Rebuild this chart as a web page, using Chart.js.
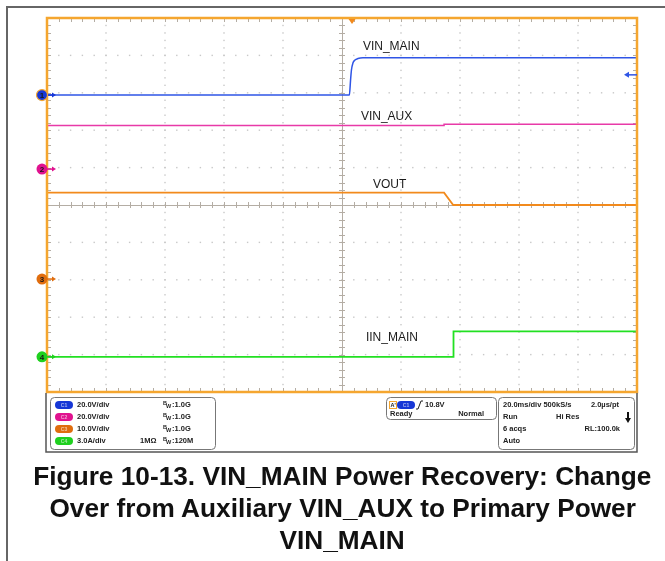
<!DOCTYPE html>
<html lang="en">
<head>
<meta charset="utf-8">
<title>VIN_MAIN Power Recovery</title>
<script src="https://cdn.jsdelivr.net/npm/chart.js@4.4.0/dist/chart.umd.min.js"></script>
<style>
  html, body { margin: 0; padding: 0; background: #fff; }
  #contenedor { position: relative; width: 665px; height: 561px; overflow: hidden; }
  #osciloscopio { position: absolute; left: 0; top: 0; }
  #pie {
    position: absolute; left: 10px; top: 460px; width: 665px;
    font-family: "Liberation Sans Narrow", "Liberation Sans", Arial, sans-serif; font-weight: bold;
    font-size: 26px; line-height: 32px; color: #111; text-align: center;
  }
  #pie div { white-space: nowrap; }
  #pie span { display: inline-block; }
</style>
</head>
<body>
<div id="contenedor">
  <canvas id="osciloscopio" width="665" height="561"></canvas>
  <div id="pie">
    <div><span>Figure 10-13. VIN_MAIN Power Recovery: Change</span></div>
    <div><span>Over from Auxiliary VIN_AUX to Primary Power</span></div>
    <div><span>VIN_MAIN</span></div>
  </div>
</div>

<script>
// Canales del osciloscopio
const canales = ['C1', 'C2', 'C3', 'C4'];
const nombres = ['VIN_MAIN', 'VIN_AUX', 'VOUT', 'IIN_MAIN'];
const escalas = ['20.0V/div', '20.0V/div', '10.0V/div', '3.0A/div'];
const unidadesPorDiv = [20, 20, 10, 3];
const posicionDiv = [2.94, 0.96, -1.98, -4.06];   // offset de cada canal en divisiones

// Tiempos en ms (20 ms/div, 10 div)
const tiempoMain = [-100, 2.5, 2.9, 3.2, 3.7, 4.4, 5.4, 7.1, 100];
const vinMain    = [0, 0, 8.0, 13.4, 17.1, 18.7, 19.5, 19.9, 19.9];

const tiempoAux = [-100, 34.6, 34.6, 100];
const vinAux    = [23.3, 23.3, 24.0, 24.0];

const tiempoOut = [-100, 34.6, 37.7, 100];
const vout      = [23.1, 23.1, 19.8, 19.8];

const tiempoIin = [-100, 37.7, 37.8, 100];
const iinMain   = [0, 0, 2.04, 2.04];

const nivelTrigger = 10.8;   // V en C1
const tiempoTrigger = 3.4;   // ms

const colores  = ['#2f55e6', '#e83aa8', '#f28a1c', '#22e022'];
const coloresMarca = ['#1737d6', '#e0128f', '#e06d0e', '#1fd01f'];

const serie = (ts, vs) => ts.map((t, i) => ({ x: t, y: vs[i] }));

// Donde van los nombres de las trazas (tiempo en ms, altura en divisiones)
const etiquetas = [
  { texto: 'VIN_MAIN', t: 7.1, div: 4.22 },
  { texto: 'VIN_AUX', t: 6.4, div: 2.35 },
  { texto: 'VOUT', t: 10.5, div: 0.53 },
  { texto: 'IIN_MAIN', t: 8.1, div: -3.56 }
];

const TEXTO = '#222';

function cajaRedonda(ctx, x, y, w, h, r) {
  ctx.beginPath();
  ctx.roundRect(x, y, w, h, r);
  ctx.stroke();
}

function insignia(ctx, x, y, color, texto) {
  ctx.save();
  ctx.fillStyle = color;
  ctx.beginPath();
  ctx.roundRect(x, y - 4, 18, 8, 4);
  ctx.fill();
  ctx.fillStyle = 'rgba(255,255,255,0.6)';
  ctx.font = 'bold 5px "Liberation Sans", Arial';
  ctx.textAlign = 'center';
  ctx.fillText(texto, x + 9, y + 0.5);
  ctx.restore();
}

// Panel de configuracion bajo la pantalla
function panelInfo(ctx) {
  ctx.save();
  ctx.strokeStyle = '#555';
  ctx.lineWidth = 1.5;
  ctx.beginPath();
  ctx.moveTo(46, 393); ctx.lineTo(46, 452); ctx.lineTo(637, 452); ctx.lineTo(637, 393);
  ctx.stroke();

  ctx.strokeStyle = '#777';
  ctx.lineWidth = 1;
  cajaRedonda(ctx, 50.5, 397.5, 165, 52, 4);
  cajaRedonda(ctx, 386.5, 397.5, 110, 22, 4);
  cajaRedonda(ctx, 498.5, 397.5, 136, 52, 4);

  ctx.textBaseline = 'middle';
  const filas = [405, 417, 429, 441];
  canales.forEach((c, i) => {
    const y = filas[i];
    insignia(ctx, 55, y, coloresMarca[i], c);
    ctx.fillStyle = TEXTO;
    ctx.font = 'bold 7.5px "Liberation Sans", Arial';
    ctx.fillText(escalas[i], 77, y);
    // B sub W : ancho de banda
    ctx.font = 'bold 5.5px "Liberation Sans", Arial';
    ctx.fillText('B', 163, y - 2);
    ctx.fillText('W', 166, y + 1.5);
    ctx.font = 'bold 7.5px "Liberation Sans", Arial';
    ctx.fillText(i === 3 ? ':120M' : ':1.0G', 172, y);
  });
  ctx.fillText('1M\u03A9', 140, filas[3]);

  // trigger
  ctx.strokeStyle = '#f5a62f';
  ctx.strokeRect(389.5, 401.5, 7, 7);
  ctx.fillStyle = TEXTO;
  ctx.font = 'bold 5.5px "Liberation Sans", Arial';
  ctx.fillText('A\'', 390.5, 405);
  insignia(ctx, 397, 405, coloresMarca[0], 'C1');
  ctx.strokeStyle = TEXTO;
  ctx.lineWidth = 1;
  ctx.beginPath();
  ctx.moveTo(416, 409); ctx.lineTo(418, 409); ctx.lineTo(421, 401); ctx.lineTo(423, 401);
  ctx.stroke();
  ctx.fillStyle = TEXTO;
  ctx.font = 'bold 7.5px "Liberation Sans", Arial';
  ctx.fillText('10.8V', 425, 405);
  ctx.fillText('Ready', 390, 414);
  ctx.textAlign = 'right';
  ctx.fillText('Normal', 484, 414);

  // adquisicion
  ctx.textAlign = 'left';
  ctx.fillText('20.0ms/div 500kS/s', 503, filas[0]);
  ctx.fillText('Run', 503, filas[1]);
  ctx.fillText('Hi Res', 556, filas[1]);
  ctx.fillText('6 acqs', 503, filas[2]);
  ctx.fillText('Auto', 503, filas[3]);
  ctx.textAlign = 'right';
  ctx.fillText('2.0\u00B5s/pt', 619, filas[0]);
  ctx.fillText('RL:100.0k', 620, filas[2]);
  ctx.textAlign = 'left';
  // flecha hacia abajo
  ctx.fillStyle = '#111';
  ctx.fillRect(627, 412, 2, 7);
  ctx.beginPath();
  ctx.moveTo(625, 418); ctx.lineTo(631, 418); ctx.lineTo(628, 423); ctx.closePath();
  ctx.fill();
  ctx.restore();
}

const pantalla = {
  id: 'pantalla',
  beforeDraw(chart) {
    const { ctx, chartArea: a, scales } = chart;
    const px = v => scales.x.getPixelForValue(v);
    const py = d => scales.yDiv.getPixelForValue(d);
    ctx.save();
    ctx.fillStyle = '#fff';
    ctx.fillRect(0, 0, chart.width, chart.height);

    // marco gris de la figura
    ctx.strokeStyle = '#666';
    ctx.lineWidth = 2;
    ctx.beginPath();
    ctx.moveTo(7, chart.height); ctx.lineTo(7, 7); ctx.lineTo(chart.width, 7);
    ctx.stroke();

    // reticula punteada
    ctx.fillStyle = '#c8c8c8';
    for (let t = -80; t <= 80; t += 20) {
      if (t === 0) continue;
      for (let d = -5; d <= 5.001; d += 0.2) ctx.fillRect(px(t) - 0.7, py(d) - 0.7, 1.4, 1.4);
    }
    for (let d = -4; d <= 4; d++) {
      if (d === 0) continue;
      for (let t = -100; t <= 100.001; t += 4) ctx.fillRect(px(t) - 0.7, py(d) - 0.7, 1.4, 1.4);
    }

    // ejes centrales con marcas
    ctx.strokeStyle = '#b4ada4';
    ctx.lineWidth = 1;
    ctx.beginPath();
    ctx.moveTo(a.left, Math.round(py(0)) + 0.5); ctx.lineTo(a.right, Math.round(py(0)) + 0.5);
    ctx.moveTo(Math.round(px(0)) + 0.5, a.top); ctx.lineTo(Math.round(px(0)) + 0.5, a.bottom);
    for (let t = -100; t <= 100.001; t += 4) {
      const x = Math.round(px(t)) + 0.5;
      ctx.moveTo(x, py(0) - 3); ctx.lineTo(x, py(0) + 3);
      ctx.moveTo(x, a.top); ctx.lineTo(x, a.top + 4);
      ctx.moveTo(x, a.bottom); ctx.lineTo(x, a.bottom - 4);
    }
    for (let d = -5; d <= 5.001; d += 0.2) {
      const y = Math.round(py(d)) + 0.5;
      ctx.moveTo(px(0) - 3, y); ctx.lineTo(px(0) + 3, y);
      ctx.moveTo(a.left, y); ctx.lineTo(a.left + 4, y);
      ctx.moveTo(a.right, y); ctx.lineTo(a.right - 4, y);
    }
    ctx.stroke();
    ctx.restore();
  },
  afterDatasetsDraw(chart) {
    const { ctx, chartArea: a, scales } = chart;
    const px = v => scales.x.getPixelForValue(v);
    const py = d => scales.yDiv.getPixelForValue(d);
    ctx.save();

    // marco naranja de la pantalla
    ctx.strokeStyle = '#f5a62f';
    ctx.lineWidth = 2.5;
    ctx.strokeRect(a.left, a.top, a.right - a.left, a.bottom - a.top);

    // posicion del trigger (arriba)
    ctx.fillStyle = '#f28a1c';
    const xt = px(tiempoTrigger);
    ctx.beginPath();
    ctx.moveTo(xt - 3.5, a.top + 1); ctx.lineTo(xt + 3.5, a.top + 1); ctx.lineTo(xt, a.top + 6);
    ctx.closePath();
    ctx.fill();

    // nivel del trigger (derecha)
    const yt = scales.y1.getPixelForValue(nivelTrigger);
    ctx.strokeStyle = colores[0];
    ctx.fillStyle = colores[0];
    ctx.lineWidth = 1.5;
    ctx.beginPath();
    ctx.moveTo(a.right - 9, yt); ctx.lineTo(a.right, yt);
    ctx.stroke();
    ctx.beginPath();
    ctx.moveTo(a.right - 13, yt); ctx.lineTo(a.right - 8, yt - 3); ctx.lineTo(a.right - 8, yt + 3);
    ctx.closePath();
    ctx.fill();

    // marcadores de referencia de cada canal
    canales.forEach((c, i) => {
      const y = scales['y' + (i + 1)].getPixelForValue(0);
      const x = a.left - 5;
      ctx.strokeStyle = coloresMarca[i];
      ctx.fillStyle = coloresMarca[i];
      ctx.lineWidth = 1.5;
      ctx.beginPath();
      ctx.moveTo(x + 5, y); ctx.lineTo(x + 11, y);
      ctx.stroke();
      ctx.beginPath();
      ctx.moveTo(x + 14, y); ctx.lineTo(x + 10, y - 2.5); ctx.lineTo(x + 10, y + 2.5);
      ctx.closePath();
      ctx.fill();
      ctx.beginPath();
      ctx.arc(x, y, 5.5, 0, Math.PI * 2);
      ctx.fill();
      if (i === 0) {
        ctx.strokeStyle = '#f5a62f';
        ctx.lineWidth = 1.2;
        ctx.stroke();
      }
      ctx.fillStyle = '#1a1a1a';
      ctx.font = 'bold 8px "Liberation Sans", Arial';
      ctx.textAlign = 'center';
      ctx.textBaseline = 'middle';
      ctx.fillText(String(i + 1), x, y + 0.5);
    });

    // nombres de las trazas
    ctx.fillStyle = '#1a1a1a';
    ctx.font = '12px "Liberation Sans", Arial';
    ctx.textAlign = 'left';
    ctx.textBaseline = 'middle';
    etiquetas.forEach(e => ctx.fillText(e.texto, px(e.t), py(e.div)));

    ctx.restore();
    panelInfo(ctx);
  }
};

// un eje y por canal, segun V/div y offset
const ejes = {
  x: { type: 'linear', min: -100, max: 100, display: false },
  yDiv: { type: 'linear', min: -5, max: 5, display: false }
};
canales.forEach((c, i) => {
  ejes['y' + (i + 1)] = {
    type: 'linear',
    display: false,
    min: (-5 - posicionDiv[i]) * unidadesPorDiv[i],
    max: (5 - posicionDiv[i]) * unidadesPorDiv[i]
  };
});

const datos = [
  serie(tiempoMain, vinMain),
  serie(tiempoAux, vinAux),
  serie(tiempoOut, vout),
  serie(tiempoIin, iinMain)
];

const ctx = document.getElementById('osciloscopio').getContext('2d');
const grafico = new Chart(ctx, {
  type: 'line',
  data: {
    datasets: datos.map((d, i) => ({
      label: nombres[i],
      data: d,
      yAxisID: 'y' + (i + 1),
      borderColor: colores[i],
      borderWidth: i >= 2 ? 1.8 : 1.5,
      pointRadius: 0,
      fill: false,
      cubicInterpolationMode: i === 0 ? 'monotone' : 'default'
    }))
  },
  options: {
    responsive: false,
    devicePixelRatio: 1,
    animation: false,
    events: [],
    layout: { padding: { left: 47, right: 28, top: 18, bottom: 169 } },
    scales: ejes,
    plugins: { legend: { display: false }, tooltip: { enabled: false } }
  },
  plugins: [pantalla]
});

// el pie de figura va un poco comprimido a lo ancho
const lineas = document.querySelectorAll('#pie span');
const k = 618 / lineas[0].getBoundingClientRect().width;
lineas.forEach(s => { s.style.transform = 'scaleX(' + k + ')'; });
</script>
</body>
</html>
